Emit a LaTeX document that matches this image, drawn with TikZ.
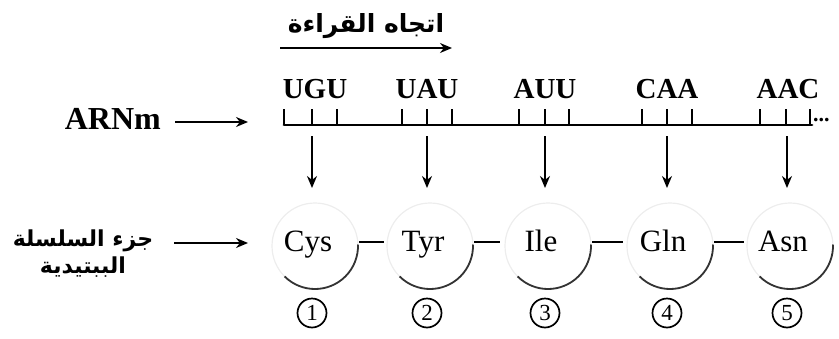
\documentclass[tikz,border=0pt]{standalone}
\usepackage{fontspec}
\setmainfont{Liberation Serif}
\newfontfamily\arabicfont[Script=Arabic]{DejaVu Sans}
\TeXXeTstate=1
\usetikzlibrary{arrows.meta}
\begin{document}
\begin{tikzpicture}[x=1pt,y=-1pt,
  codon/.style={font=\fontsize{29}{29}\selectfont\bfseries, inner sep=0pt},
  amino/.style={font=\fontsize{31}{31}\selectfont, inner sep=0pt, anchor=base},
  arlab/.style={font=\arabicfont\bfseries\fontsize{21}{27}\selectfont, inner sep=0pt, align=center},
  numlab/.style={circle, draw, line width=1.7pt, inner sep=0pt, minimum size=29pt, font=\fontsize{23}{23}\selectfont},
  arr/.style={-{Stealth[length=12pt,width=10pt]}, line width=1.6pt},
  faint/.style={draw=black!7, line width=1.2pt},
  darkarc/.style={draw=black!80, line width=1.8pt},
  tick/.style={line width=1.4pt},
  bond/.style={line width=1.9pt},
]
\useasboundingbox (0,0) rectangle (839,338);
% reading direction
\node[arlab, font=\arabicfont\bfseries\fontsize{25}{27}\selectfont] (dir) at (366,26) {\beginR اتجاه القراءة\endR};
\coordinate (d1) at (280,48);
\coordinate (d2) at (452,48);
\draw[arr] (d1) -- (d2);
% ARNm
\node[codon, font=\fontsize{32}{32}\selectfont\bfseries, anchor=east] (arn) at (161,119) {ARNm};
\coordinate (a1) at (175,122);
\coordinate (a2) at (248,122);
\draw[arr] (a1) -- (a2);
% mRNA line
\coordinate (l1) at (284,109);
\coordinate (l0) at (284,125);
\coordinate (l2) at (812,125);
\draw[line width=2.8pt, line cap=round] (l0) -- (l2);
\draw[tick] (l1) -- (l0);
\node[codon, anchor=west, inner sep=1pt] (dots) at (812,120) {\fontsize{22}{22}\selectfont...};
% ticks
\foreach \x in {312,337,402,427,452,519,545,569,642,667,692,760,786,810}{
  \draw[tick] (\x,109) -- (\x,125);
}
% codons
\node[codon] (c1) at (315,89) {UGU};
\node[codon] (c2) at (427,89) {UAU};
\node[codon] (c3) at (545,89) {AUU};
\node[codon] (c4) at (667,89) {CAA};
\node[codon] (c5) at (788,89) {AAC};
% amino acids
\foreach \n/\x/\t in {1/312/Cys,2/427/Tyr,3/545/Ile,4/667/Gln,5/787/Asn}{
  \coordinate (cc\n) at ({\x+3},246);
  \draw[faint] (cc\n) circle[radius=43pt];
  \draw[darkarc] (cc\n) ++(225:43pt) arc[start angle=225, end angle=362, radius=43pt];
  \node[amino] (aa\n) at ({\x-4},251) {\t};
  \coordinate (t\n) at (\x,136);
  \coordinate (h\n) at (\x,188);
  \draw[arr] (t\n) -- (h\n);
  \node[numlab] (n\n) at (\x,313) {\n};
}
% peptide bonds
\foreach \a/\s/\e in {1/359/384,2/474/500,3/592/623,4/714/744}{
  \coordinate (p\a) at (\s,242);
  \coordinate (q\a) at (\e,242);
  \draw[bond] (p\a) -- (q\a);
}
% peptide chain label
\node[arlab, font=\arabicfont\bfseries\fontsize{22}{27}\selectfont] (pep) at (83,254) {\beginR جزء السلسلة\endR\\ \beginR الببتيدية\endR};
\coordinate (b1) at (174,243);
\coordinate (b2) at (248,243);
\draw[arr] (b1) -- (b2);
\end{tikzpicture}
\end{document}
